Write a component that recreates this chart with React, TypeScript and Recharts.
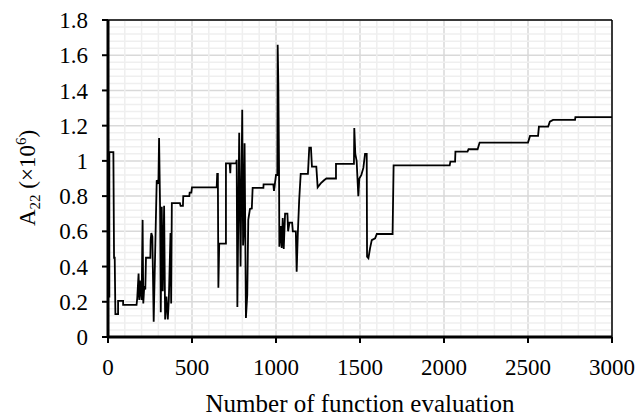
import React from 'react';
import { LineChart, Line, XAxis, YAxis, CartesianGrid, ReferenceLine, Label } from 'recharts';

// [evaluation, A22 (x10^6)], split by phase
const phaseStart = [
  [0, 0.23], [8, 0.23], [8, 1.05], [32, 1.05], [36, 0.45], [40, 0.45], [44, 0.13], [60, 0.13],
  [60, 0.205], [90, 0.205], [90, 0.182], [170, 0.182], [174, 0.22], [182, 0.36], [186, 0.21],
  [190, 0.32], [200, 0.21], [206, 0.665], [210, 0.19], [216, 0.29], [222, 0.27], [226, 0.45],
  [252, 0.45], [254, 0.55], [258, 0.59], [264, 0.57], [272, 0.087], [278, 0.36], [290, 0.89],
  [300, 0.87], [304, 1.13], [310, 0.74], [314, 0.14], [320, 0.74], [326, 0.26], [334, 0.745],
  [340, 0.1], [348, 0.23], [356, 0.1], [362, 0.21], [372, 0.59], [376, 0.19], [380, 0.76],
  [428, 0.76], [432, 0.745], [446, 0.745], [448, 0.8], [484, 0.8], [486, 0.82], [496, 0.82],
  [500, 0.85], [647, 0.85],
];

const phaseSearch = [
  [650, 0.926], [654, 0.926], [657, 0.28], [662, 0.53], [702, 0.53], [702, 0.986], [724, 0.986],
  [728, 0.93], [730, 0.986], [762, 0.986], [766, 1.006], [770, 0.17], [781, 1.16], [789, 0.4],
  [799, 1.29], [804, 0.52], [808, 0.6], [813, 1.1], [821, 0.108], [829, 0.24], [835, 0.665],
  [845, 0.727], [856, 0.73], [861, 0.847], [925, 0.847], [926, 0.867], [984, 0.867], [988, 0.83],
  [1000, 0.92], [1008, 0.92],
];

const phaseSpike = [
  [1010, 1.66], [1014, 1.43], [1018, 0.967], [1020, 0.513], [1028, 0.63], [1034, 0.505],
  [1040, 0.675], [1046, 0.5], [1054, 0.7], [1068, 0.7], [1072, 0.6], [1080, 0.65], [1096, 0.65],
  [1100, 0.6], [1118, 0.6], [1123, 0.37], [1130, 0.59], [1138, 0.778], [1147, 0.926],
  [1190, 0.926], [1198, 1.075], [1208, 1.075], [1214, 0.967], [1240, 0.967], [1248, 0.85],
  [1266, 0.872], [1286, 0.89], [1300, 0.9], [1357, 0.9], [1357, 0.983], [1464, 0.983],
  [1466, 1.186], [1472, 1.04], [1480, 1.0], [1490, 0.8], [1496, 0.9], [1508, 0.92], [1520, 0.96],
  [1530, 1.04], [1540, 1.04], [1542, 0.456], [1550, 0.447], [1560, 0.505], [1570, 0.55],
  [1590, 0.56], [1600, 0.585], [1694, 0.585],
];

const phaseConverge = [
  [1700, 0.975], [2034, 0.975], [2038, 0.996], [2066, 0.996], [2068, 1.053], [2140, 1.053],
  [2146, 1.066], [2200, 1.066], [2212, 1.104], [2500, 1.104], [2512, 1.142], [2560, 1.142],
  [2565, 1.195], [2620, 1.195], [2630, 1.223], [2649, 1.233], [2780, 1.233], [2782, 1.248],
  [3000, 1.248],
];

const xTicks = [0, 500, 1000, 1500, 2000, 2500, 3000];
const yTicks = [0, 0.2, 0.4, 0.6, 0.8, 1, 1.2, 1.4, 1.6, 1.8];
const xMinor = [100, 200, 300, 400, 600, 700, 800, 900, 1100, 1200, 1300, 1400, 1600, 1700, 1800, 1900,
  2100, 2200, 2300, 2400, 2600, 2700, 2800, 2900];
const yMinor = [0.04, 0.08, 0.12, 0.16, 0.24, 0.28, 0.32, 0.36, 0.44, 0.48, 0.52, 0.56, 0.64, 0.68, 0.72, 0.76,
  0.84, 0.88, 0.92, 0.96, 1.04, 1.08, 1.12, 1.16, 1.24, 1.28, 1.32, 1.36, 1.44, 1.48, 1.52, 1.56,
  1.64, 1.68, 1.72, 1.76];

const data = [...phaseStart, ...phaseSearch, ...phaseSpike, ...phaseConverge].map(([x, y]) => ({ x, y }));

const font = '"Liberation Serif", "Times New Roman", serif';

const YTitle = () => (
  <text x={35} y={178} transform="rotate(-90 35 178)" textAnchor="middle" fontSize={23} fontFamily={font} fill="#000">
    A<tspan dy={5} fontSize={15}>22</tspan>
    <tspan dy={-5}> (×10</tspan>
    <tspan dy={-9} fontSize={15}>6</tspan>
    <tspan dy={9}>)</tspan>
  </text>
);

const XTitle = () => (
  <text x={360} y={412} textAnchor="middle" fontSize={25} fontFamily={font} fill="#000">
    Number of function evaluation
  </text>
);

export default function App() {
  return (
    <div style={{ position: 'absolute', left: 0, top: 0, background: '#fff' }}>
      <LineChart width={638} height={417} data={data} margin={{ top: 20, right: 26, left: 0, bottom: 0 }}>
        {xMinor.map(v => (
          <ReferenceLine key={'mx' + v} x={v} stroke="#efefef" strokeWidth={1.5} zIndex={-90} />
        ))}
        {yMinor.map(v => (
          <ReferenceLine key={'my' + v} y={v} stroke="#efefef" strokeWidth={1.5} zIndex={-90} />
        ))}
        <CartesianGrid stroke="#d9d9d9" strokeWidth={1.5} />
        <XAxis
          dataKey="x"
          type="number"
          domain={[0, 3000]}
          ticks={xTicks}
          height={80}
          tickSize={6}
          tickMargin={16}
          axisLine={{ stroke: '#000', strokeWidth: 3 }}
          tickLine={{ stroke: '#000', strokeWidth: 2 }}
          tick={{ fill: '#000', fontSize: 23, fontFamily: font }}
          interval={0}
        >
          <Label content={XTitle} />
        </XAxis>
        <YAxis
          type="number"
          domain={[0, 1.8]}
          ticks={yTicks}
          width={108}
          tickSize={6}
          tickMargin={14}
          axisLine={{ stroke: '#000', strokeWidth: 3 }}
          tickLine={{ stroke: '#000', strokeWidth: 2 }}
          tick={{ fill: '#000', fontSize: 23, fontFamily: font }}
          interval={0}
        >
          <Label content={YTitle} />
        </YAxis>
        <ReferenceLine y={1.8} stroke="#000" strokeWidth={1.5} />
        <ReferenceLine x={3000} stroke="#000" strokeWidth={1.5} />
        <Line
          type="linear"
          dataKey="y"
          stroke="#000"
          strokeWidth={1.8}
          dot={false}
          activeDot={false}
          isAnimationActive={false}
        />
      </LineChart>
    </div>
  );
}
